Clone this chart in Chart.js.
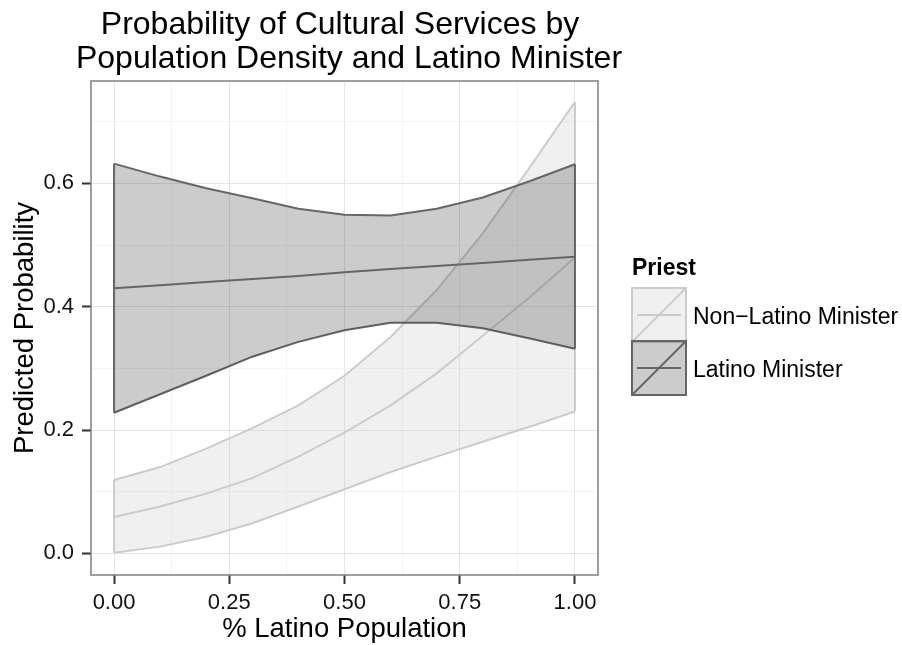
<!DOCTYPE html>
<html lang="en">
<head>
    <meta charset="UTF-8">
    <title>Probability of Cultural Services</title>
    <style>
        body { margin: 0; background: #fff; }
        #wrap { width: 902px; height: 645px; }
    </style>
</head>
<body>
    <div id="wrap">
        <canvas id="myChart" width="902" height="645"></canvas>
    </div>

    <script src="https://cdn.jsdelivr.net/npm/chart.js"></script>

    <script>
        const ctx = document.getElementById('myChart');
        const FONT = '"Liberation Sans", Arial, Helvetica, sans-serif';

        // x values (% Latino population)
        const xs = [0, 0.1, 0.2, 0.3, 0.4, 0.5, 0.6, 0.7, 0.8, 0.9, 1.0];

        // Non-Latino minister: fit + band
        const nonLatinoFit  = [0.059, 0.076, 0.097, 0.122, 0.157, 0.196, 0.240, 0.292, 0.353, 0.414, 0.480];
        const nonLatinoLow  = [0.001, 0.011, 0.027, 0.049, 0.076, 0.104, 0.132, 0.157, 0.181, 0.205, 0.230];
        const nonLatinoHigh = [0.119, 0.140, 0.170, 0.203, 0.240, 0.288, 0.351, 0.427, 0.519, 0.624, 0.732];

        // Latino minister: fit + band
        const latinoFit  = [0.430, 0.435, 0.440, 0.445, 0.450, 0.456, 0.461, 0.466, 0.471, 0.476, 0.481];
        const latinoLow  = [0.228, 0.258, 0.288, 0.319, 0.343, 0.362, 0.374, 0.374, 0.365, 0.349, 0.332];
        const latinoHigh = [0.632, 0.611, 0.592, 0.576, 0.559, 0.549, 0.548, 0.559, 0.577, 0.603, 0.631];

        // tick labels
        const xTicks = [0, 0.125, 0.25, 0.375, 0.5, 0.625, 0.75, 0.875, 1];
        const yTicks = [0, 0.1, 0.2, 0.3, 0.4, 0.5, 0.6, 0.7];
        const xMajor = [0, 0.25, 0.5, 0.75, 1];
        const yMajor = [0, 0.2, 0.4, 0.6];

        const seriesNames = ['Non\u2212Latino Minister', 'Latino Minister'];

        const light = { line: '#cccccc', fill: 'rgba(204,204,204,0.3)' };
        const dark  = { line: '#666666', fill: 'rgba(51,51,51,0.25)' };

        function pts(arr) {
            return xs.map((x, i) => ({ x: x, y: arr[i] }));
        }
        // vertical closing edges of a ribbon
        function edges(lo, hi) {
            const n = xs.length - 1;
            return [
                { x: xs[0], y: lo[0] }, { x: xs[0], y: hi[0] },
                { x: xs[n], y: null },
                { x: xs[n], y: lo[n] }, { x: xs[n], y: hi[n] }
            ];
        }
        function lineSet(data, color, order, extra) {
            return Object.assign({
                data: data,
                borderColor: color,
                borderWidth: 2,
                pointRadius: 0,
                tension: 0,
                fill: false,
                order: order
            }, extra || {});
        }

        const isMajor = (v, list) => list.some(m => Math.abs(m - v) < 1e-6);

        // title, axis titles, panel border, legend
        const decor = {
            id: 'decor',
            afterDraw(chart) {
                const c = chart.ctx;
                const a = chart.chartArea;
                c.save();
                // panel border
                c.strokeStyle = '#7f7f7f';
                c.lineWidth = 1.5;
                c.strokeRect(a.left, a.top, a.right - a.left, a.bottom - a.top);

                c.fillStyle = '#000';
                c.textBaseline = 'alphabetic';
                c.textAlign = 'center';
                c.font = '32px ' + FONT;
                c.fillText('Probability of Cultural Services by', 340, 34);
                c.fillText('Population Density and Latino Minister', 349, 68);

                c.font = '27.5px ' + FONT;
                c.fillText('% Latino Population', (a.left + a.right) / 2, 637);
                c.save();
                c.translate(33, (a.top + a.bottom) / 2);
                c.rotate(-Math.PI / 2);
                c.fillText('Predicted Probability', 0, 0);
                c.restore();

                // legend
                c.textAlign = 'left';
                c.font = 'bold 23px ' + FONT;
                c.fillText('Priest', 632, 275);
                const keys = [light, dark];
                const tops = [288, 341];
                c.font = '23px ' + FONT;
                keys.forEach((k, i) => {
                    const x = 632, y = tops[i], w = 54, h = 54;
                    c.fillStyle = k.fill;
                    c.fillRect(x, y, w, h);
                    c.strokeStyle = k.line;
                    c.lineWidth = 2;
                    c.strokeRect(x, y, w, h);
                    c.beginPath();
                    c.moveTo(x, y + h);
                    c.lineTo(x + w, y);
                    c.moveTo(x + 5, y + h / 2);
                    c.lineTo(x + w - 5, y + h / 2);
                    c.stroke();
                    c.fillStyle = '#000';
                    c.fillText(seriesNames[i], 693, y + h / 2 + 9);
                });
                c.restore();
            }
        };

        const data = {
            datasets: [
                lineSet(pts(nonLatinoLow), light.line, 8),
                lineSet(pts(nonLatinoHigh), light.line, 7, { fill: 0, backgroundColor: light.fill }),
                lineSet(edges(nonLatinoLow, nonLatinoHigh), light.line, 6),
                lineSet(pts(nonLatinoFit), light.line, 5),
                lineSet(pts(latinoLow), dark.line, 4),
                lineSet(pts(latinoHigh), dark.line, 3, { fill: 4, backgroundColor: dark.fill }),
                lineSet(edges(latinoLow, latinoHigh), dark.line, 2),
                lineSet(pts(latinoFit), dark.line, 1)
            ]
        };

        const chart = new Chart(ctx, {
            type: 'line',
            data: data,
            plugins: [decor],
            options: {
                responsive: false,
                animation: false,
                devicePixelRatio: 1,
                layout: { padding: { top: 81, right: 304, left: 0, bottom: 0 } },
                plugins: {
                    legend: { display: false },
                    tooltip: { enabled: false },
                    filler: { propagate: false }
                },
                scales: {
                    x: {
                        type: 'linear',
                        min: -0.05,
                        max: 1.05,
                        afterFit: s => { s.height = 70; },
                        afterBuildTicks: s => { s.ticks = xTicks.map(v => ({ value: v })); },
                        border: { display: false },
                        grid: {
                            color: c => isMajor(c.tick.value, xMajor) ? '#e5e5e5' : '#f4f4f4',
                            tickColor: c => isMajor(c.tick.value, xMajor) ? '#333333' : 'rgba(0,0,0,0)',
                            tickLength: 9,
                            tickWidth: 2,
                            lineWidth: 1
                        },
                        ticks: {
                            autoSkip: false,
                            maxRotation: 0,
                            padding: 6,
                            color: '#111',
                            font: { family: FONT, size: 22 },
                            callback: v => isMajor(v, xMajor) ? v.toFixed(2) : ''
                        }
                    },
                    y: {
                        min: -0.035,
                        max: 0.766,
                        afterFit: s => { s.width = 91; },
                        afterBuildTicks: s => { s.ticks = yTicks.map(v => ({ value: v })); },
                        border: { display: false },
                        grid: {
                            color: c => isMajor(c.tick.value, yMajor) ? '#e5e5e5' : '#f4f4f4',
                            tickColor: c => isMajor(c.tick.value, yMajor) ? '#333333' : 'rgba(0,0,0,0)',
                            tickLength: 9,
                            tickWidth: 2,
                            lineWidth: 1
                        },
                        ticks: {
                            autoSkip: false,
                            padding: 8,
                            color: '#111',
                            font: { family: FONT, size: 22 },
                            callback: v => isMajor(v, yMajor) ? v.toFixed(1) : ''
                        }
                    }
                }
            }
        });
    </script>
</body>
</html>
